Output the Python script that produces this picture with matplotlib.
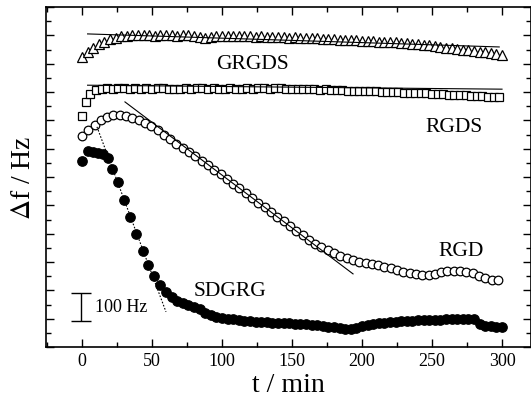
import matplotlib
matplotlib.use('Agg')
import matplotlib.pyplot as plt
from matplotlib.ticker import MultipleLocator, NullFormatter

plt.rcParams['font.family'] = 'Liberation Serif'
plt.rcParams['mathtext.fontset'] = 'stix'

# GRGDS (open triangles)
t_grgds = [0, 4, 8, 12, 16, 20, 24, 28, 32, 36, 40, 44, 48, 52, 56, 60, 64, 68, 72, 76,
           80, 84, 88, 92, 96, 100, 104, 108, 112, 116, 120, 124, 128, 132, 136, 140, 144, 148,
           152, 156, 160, 164, 168, 172, 176, 180, 184, 188, 192, 196, 200, 204, 208, 212, 216,
           220, 224, 228, 232, 236, 240, 244, 248, 252, 256, 260, 264, 268, 272, 276, 280, 284,
           288, 292, 296, 300]
f_grgds = [1024, 1040, 1055, 1068, 1078, 1086, 1092, 1096, 1099, 1101, 1100, 1102, 1101, 1099,
           1102, 1100, 1101, 1099, 1101, 1100, 1098, 1094, 1090, 1095, 1099, 1098, 1097, 1099,
           1097, 1096, 1097, 1095, 1096, 1094, 1095, 1093, 1094, 1092, 1093, 1091, 1090, 1091,
           1089, 1088, 1086, 1087, 1085, 1083, 1084, 1082, 1081, 1079, 1080, 1078, 1076, 1077,
           1075, 1073, 1072, 1070, 1069, 1067, 1065, 1063, 1060, 1057, 1054, 1052, 1049, 1047,
           1044, 1042, 1040, 1037, 1035, 1032]

# RGDS (open squares)
t_rgds = [0, 3, 6, 10, 14, 18, 22, 26, 30, 34, 38, 42, 46, 50, 54, 58, 62, 66, 70, 74, 78, 82,
          86, 90, 94, 98, 102, 106, 110, 114, 118, 122, 126, 130, 134, 138, 142, 146, 150, 154,
          158, 162, 166, 170, 174, 178, 182, 186, 190, 194, 198, 202, 206, 210, 214, 218, 222,
          226, 230, 234, 238, 242, 246, 250, 254, 258, 262, 266, 270, 274, 278, 282, 286, 290,
          294, 298]
f_rgds = [815, 866, 892, 906, 912, 913, 912, 914, 913, 912, 914, 911, 913, 912, 913, 914, 912,
          911, 909, 913, 912, 913, 914, 912, 913, 911, 912, 913, 912, 911, 913, 912, 914, 913,
          912, 914, 913, 911, 912, 910, 911, 909, 910, 908, 909, 907, 906, 907, 905, 904, 905,
          903, 902, 903, 901, 900, 899, 900, 898, 897, 896, 897, 895, 894, 893, 892, 891, 890,
          889, 888, 887, 886, 885, 884, 883, 882]

# RGD (open circles)
t_rgd = [0, 4.5, 9, 13.5, 18, 22.5, 27, 31.5, 36, 40.5, 45, 49.5, 54, 58.5, 63, 67.5, 72, 76.5,
         81, 85.5, 90, 94.5, 99, 103.5, 108, 112.5, 117, 121.5, 126, 130.5, 135, 139.5, 144,
         148.5, 153, 157.5, 162, 166.5, 171, 175.5, 180, 184.5, 189, 193.5, 198, 202.5, 207,
         211.5, 216, 220.5, 225, 229.5, 234, 238.5, 243, 247.5, 252, 256.5, 261, 265.5, 270,
         274.5, 279, 283.5, 288, 292.5, 297]
f_rgd = [745, 765, 785, 802, 813, 819, 820, 817, 810, 800, 790, 779, 765, 750, 734, 718, 703,
         688, 673, 658, 642, 626, 610, 593, 576, 560, 543, 526, 510, 493, 476, 459, 443, 426,
         410, 394, 379, 365, 352, 341, 331, 322, 314, 307, 301, 296, 292, 288, 284, 279, 272,
         265, 260, 256, 254, 254, 257, 263, 267, 268, 268, 265, 260, 252, 244, 238, 235]

# SDGRG (filled circles)
t_sdgrg = [0, 4, 8, 11.5, 15, 18.5, 21.5, 25.5, 30, 34.5, 38.5, 43.5, 47, 51.5, 55.5, 60,
           64, 68, 72, 76, 80, 84, 88, 92, 96, 100, 104, 108, 112, 116, 120, 124, 128, 132, 136,
           140, 144, 148, 152, 156, 160, 164, 168, 172, 176, 180, 184, 188, 192, 196, 200, 204,
           208, 212, 216, 220, 224, 228, 232, 236, 240, 244, 248, 252, 256, 260, 264, 268, 272,
           276, 280, 284, 288, 292, 296, 300]
f_sdgrg = [657, 692, 690, 686, 680, 668, 628, 582, 519, 459, 399, 339, 289, 251, 219, 194,
           177, 164, 156, 149, 142, 133, 121, 112, 107, 103, 100, 98, 96, 93, 91, 89, 88, 87, 86,
           85, 84, 83, 82, 81, 80, 79, 77, 74, 71, 69, 67, 65, 65, 68, 73, 77, 81, 84, 86, 88,
           89, 91, 92, 93, 94, 95, 96, 97, 97, 98, 99, 99, 100, 100, 99, 80, 75, 74, 72, 70]

# fitted lines (start, end)
fit_grgds = ([4, 298], [1105, 1059])
fit_rgds = ([4, 300], [924, 910])
fit_rgd = ([30.7, 193.6], [865, 258])
fit_sdgrg = ([10.7, 60], [777, 124])

fig = plt.figure(figsize=(5.31, 4.02), dpi=100)
ax = fig.add_axes([46 / 531, 54 / 402, 485 / 531, 340 / 402])

mk = dict(linestyle='none', markeredgecolor='black', markeredgewidth=0.9)
ax.plot(t_grgds, f_grgds, marker='^', markersize=6.5, markerfacecolor='white', **mk)
ax.plot(t_rgds, f_rgds, marker='s', markersize=5.4, markerfacecolor='white', **mk)
ax.plot(t_rgd, f_rgd, marker='o', markersize=6.2, markerfacecolor='white', **mk)
ax.plot(t_sdgrg, f_sdgrg, marker='o', markersize=6.8, markerfacecolor='black', **mk)

ax.plot(*fit_grgds, color='black', lw=0.8, zorder=3)
ax.plot(*fit_rgds, color='black', lw=0.8, zorder=3)
ax.plot(*fit_rgd, color='black', lw=0.8, zorder=3)
ax.plot(*fit_sdgrg, color='black', lw=0.8, ls=(0, (1.5, 1.5)), zorder=3)

# scale bar
ax.errorbar([-0.7], [142], yerr=[[50], [50]], color='black', capsize=7, capthick=1, lw=1)
ax.text(9, 142, '100 Hz', fontsize=13, va='center', ha='left')

ax.text(122, 1000, 'GRGDS', fontsize=15.5, ha='center', va='center')
ax.text(266, 777, 'RGDS', fontsize=15.5, ha='center', va='center')
ax.text(271, 342, 'RGD', fontsize=15.5, ha='center', va='center')
ax.text(106, 198, 'SDGRG', fontsize=15.5, ha='center', va='center')

ax.set_xlim(-25.7, 320.7)
ax.set_ylim(0, 1200)
ax.xaxis.set_major_locator(MultipleLocator(50))
ax.xaxis.set_minor_locator(MultipleLocator(25))
ax.yaxis.set_major_locator(MultipleLocator(100))
ax.yaxis.set_minor_locator(MultipleLocator(50))
ax.yaxis.set_major_formatter(NullFormatter())
ax.tick_params(which='both', direction='in', top=True, right=True, labelsize=13)
ax.tick_params(which='major', length=6, width=1)
ax.tick_params(which='minor', length=3.5, width=1)
for s in ax.spines.values():
    s.set_linewidth(1.2)

ax.set_xlabel('t / min', fontsize=20, labelpad=2)
ax.set_ylabel(r'$\Delta$f / Hz', fontsize=20, labelpad=4)

fig.savefig('out.png', dpi=100)
